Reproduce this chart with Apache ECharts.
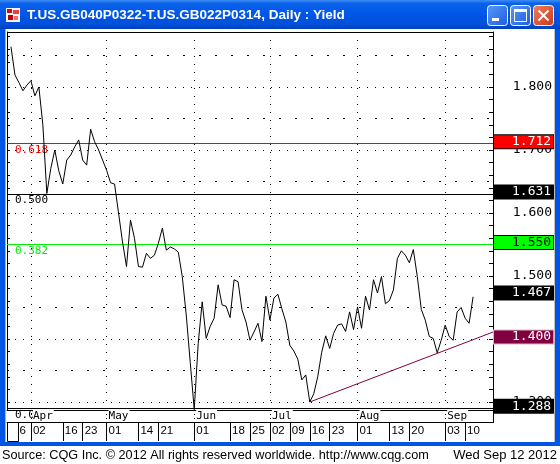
<!DOCTYPE html>
<html><head><meta charset="utf-8">
<script src="https://cdn.jsdelivr.net/npm/echarts@6/dist/echarts.min.js"></script>
<style>html,body{margin:0;padding:0;background:#fff;overflow:hidden}#c{width:560px;height:464px}</style>
</head><body><div id="c"></div><script>
// ---------- data ----------
const leadDates = ['03-23'];
const dates = [
 '03-26','03-27','03-28','03-29','03-30',
 '04-02','04-03','04-04','04-05','04-09','04-10','04-11','04-12',
 '04-16','04-17','04-18','04-19','04-20',
 '04-23','04-24','04-25','04-26','04-27','04-30',
 '05-01','05-02','05-03','05-04','05-07','05-08','05-09','05-10',
 '05-14','05-15','05-16','05-17','05-18',
 '05-21','05-22','05-23','05-24','05-25','05-28','05-29','05-30','05-31',
 '06-01','06-04','06-05','06-06','06-07','06-08','06-11','06-12','06-13',
 '06-18','06-19','06-20','06-21','06-22',
 '06-25','06-26','06-27','06-28','06-29',
 '07-02','07-03','07-04','07-05','07-06',
 '07-09','07-10','07-11','07-12','07-13',
 '07-16','07-17','07-18','07-19','07-20',
 '07-23','07-24','07-25','07-26','07-27','07-30','07-31',
 '08-01','08-02','08-03','08-06','08-07','08-08','08-09','08-10',
 '08-13','08-14','08-15','08-16','08-17',
 '08-20','08-21','08-22','08-23','08-24','08-27','08-28','08-29','08-30',
 '09-03','09-04','09-05','09-06','09-07',
 '09-10','09-11','09-12'
];
const trailDates = ['09-13','09-14','09-17','09-18','09-19'];
const spread = [
 1.864,1.819,1.807,1.794,1.803,
 1.810,1.786,1.800,1.740,1.631,1.671,1.700,1.667,
 1.646,1.684,1.692,1.705,1.716,
 1.684,1.676,1.733,1.713,1.700,1.684,
 1.668,1.648,1.646,1.600,1.554,1.515,1.589,1.560,
 1.515,1.514,1.536,1.528,1.533,
 1.552,1.576,1.541,1.546,1.543,1.538,1.499,1.438,1.363,
 1.288,1.393,1.459,1.401,1.420,1.433,1.486,1.454,1.452,
 1.434,1.494,1.491,1.446,1.427,
 1.398,1.411,1.425,1.396,1.468,
 1.430,1.465,1.471,1.448,1.427,
 1.390,1.381,1.368,1.335,1.343,
 1.300,1.313,1.340,1.379,1.405,
 1.385,1.409,1.422,1.424,1.412,1.443,1.415,
 1.451,1.417,1.468,1.446,1.494,1.473,1.499,1.456,
 1.461,1.478,1.528,1.540,1.533,
 1.521,1.542,1.499,1.447,1.430,1.404,1.401,1.378,1.398,
 1.422,1.404,1.398,1.443,1.450,
 1.433,1.425,1.467
];
const trendDates = ['07-16','09-19'];
const trendValues = [1.300, 1.411];
const monthStarts = ['04-02','05-01','06-01','07-02','08-01','09-03'];
const monthNames = ['Apr','May','Jun','Jul','Aug','Sep'];
const weekTicks = ['03-26','04-02','04-16','04-23','05-01','05-14','05-21','06-01','06-18','06-25',
                   '07-02','07-09','07-16','07-23','08-01','08-13','08-20','09-03','09-10'];
const yLabelValues = [1.3, 1.4, 1.5, 1.6, 1.7, 1.8];
const majorLevels = [1.30, 1.40, 1.50, 1.60, 1.70, 1.80];
const minorLevels = [1.35, 1.45, 1.55, 1.65, 1.75, 1.85];
const fibValues = [1.712, 1.631, 1.550, 1.288];
const fibNames = ['0.618', '0.500', '0.382', '0.000'];
const fibColors = ['#FF0000', '#000000', '#00EE00', '#000000'];
const boxValues = [1.712, 1.631, 1.550, 1.467, 1.400, 1.288];
const boxFill = ['#FF0000', '#000000', '#00FF00', '#000000', '#800040', '#000000'];
const boxText = ['#FFFFFF', '#FFFFFF', '#000000', '#FFFFFF', '#FFFFFF', '#FFFFFF'];
const boxBorder = ['#000000', '#000000', '#000000', '#000000', '#D8B8C8', '#000000'];

// ---------- chart ----------
const yMin = 1.2873, yMax = 1.8873;
const yTickValues = [];
for (let i = 0; i <= 29; i++) yTickValues.push(+(1.30 + i * 0.02).toFixed(2));
const allDates = leadDates.concat(dates, trailDates);
const MONO = 'DejaVu Sans Mono';

function gridAxis(levels, dash) {
  return {
    type: 'value', gridIndex: 0, position: 'left', min: yMin, max: yMax,
    axisLine: {show: false}, axisLabel: {show: false},
    axisTick: {show: false, customValues: levels},
    splitLine: {show: true, lineStyle: {color: '#000', width: 1, type: dash}}
  };
}

function fibSeries(i) {
  return {
    name: 'fib' + fibNames[i], type: 'line', xAxisIndex: 0, yAxisIndex: 0, data: [], silent: true, z: 3,
    color: fibColors[i], lineStyle: {color: fibColors[i]},
    markLine: {
      silent: true, symbol: ['none', 'none'], animation: false,
      lineStyle: {color: fibColors[i], width: 1, type: 'solid', opacity: 1},
      emphasis: {disabled: true},
      label: {show: true, position: 'insideStartBottom', formatter: fibNames[i], distance: [8, 1],
              color: fibColors[i], fontFamily: MONO, fontSize: 11},
      data: [{yAxis: fibValues[i], lineStyle: {color: fibColors[i], width: 1, type: 'solid'}}]
    }
  };
}

const chart = echarts.init(document.getElementById('c'), null, {renderer: 'canvas'});
const blue = '#0055E5';
const option = {
  animation: false,
  backgroundColor: '#FFFFFF',
  grid: [
    {left: 7, right: 67, top: 32, bottom: 54, show: false},
    {left: 7, right: 67, top: 32, bottom: 54, show: false}
  ],
  xAxis: [
    {
      type: 'category', gridIndex: 0, data: allDates, boundaryGap: false, position: 'bottom', z: 10,
      axisLine: {show: true, lineStyle: {color: '#000', width: 1}},
      axisTick: {show: true, interval: (i, v) => monthStarts.includes(v), length: 12,
                 lineStyle: {color: '#000', width: 1, type: [1, 3]}},
      axisLabel: {
        show: true, interval: (i, v) => monthStarts.includes(v), margin: 0, align: 'left',
        formatter: v => '{s| }{m|' + monthNames[monthStarts.indexOf(v)] + '}',
        rich: {
          s: {width: 2, fontSize: 11, fontFamily: MONO},
          m: {fontFamily: MONO, fontSize: 11, color: '#000', backgroundColor: '#FFFFFF', lineHeight: 11, padding: [1, 1, 0, 0]}
        }
      },
      splitLine: {show: true, interval: (i, v) => monthStarts.includes(v),
                  lineStyle: {color: '#000', width: 1, type: [1, 7]}}
    },
    {
      type: 'category', gridIndex: 1, data: allDates, boundaryGap: false, position: 'bottom', offset: 12,
      axisLine: {show: true, lineStyle: {color: '#000', width: 1}},
      axisTick: {show: true, interval: (i, v) => weekTicks.includes(v), length: 19,
                 lineStyle: {color: '#000', width: 1}},
      axisLabel: {show: true, interval: (i, v) => weekTicks.includes(v), formatter: v => v.slice(3),
                  align: 'left', margin: 3, padding: [0, 0, 0, 2],
                  fontFamily: 'Liberation Sans', fontSize: 11.5, color: '#000'},
      splitLine: {show: false}
    }
  ],
  yAxis: [
    {
      type: 'value', gridIndex: 0, position: 'right', min: yMin, max: yMax,
      axisLine: {show: true, lineStyle: {color: '#000', width: 1}},
      axisTick: {show: true, inside: true, length: 4, customValues: yTickValues, lineStyle: {color: '#000'}},
      axisLabel: {show: true, customValues: yLabelValues, formatter: v => v.toFixed(3), align: 'right',
                  margin: 59, fontFamily: MONO, fontSize: 13, color: '#000'},
      splitLine: {show: false}
    },
    {
      type: 'value', gridIndex: 0, position: 'left', min: yMin, max: yMax,
      axisLine: {show: true, lineStyle: {color: '#000', width: 1}},
      axisTick: {show: true, inside: true, length: 3, customValues: yTickValues, lineStyle: {color: '#000'}},
      axisLabel: {show: false},
      splitLine: {show: false}
    },
    {type: 'value', gridIndex: 1, min: yMin, max: yMax, show: false},
    gridAxis(majorLevels, [1, 7]),
    gridAxis(minorLevels, [2, 14])
  ],
  series: [
    fibSeries(0), fibSeries(1), fibSeries(2), fibSeries(3),
    {
      name: 'trend', type: 'line', xAxisIndex: 0, yAxisIndex: 0, z: 4, silent: true,
      data: trendDates.map((d, i) => [d, trendValues[i]]),
      symbol: 'none', lineStyle: {color: '#800040', width: 1}
    },
    {
      name: 'spread', type: 'line', xAxisIndex: 0, yAxisIndex: 0, z: 5, silent: true,
      data: dates.map((d, i) => [d, spread[i]]),
      symbol: 'none', lineStyle: {color: '#000', width: 1}
    },
    {
      name: 'boxes', type: 'line', xAxisIndex: 0, yAxisIndex: 0, data: [], silent: true, z: 6,
      markLine: {
        silent: true, symbol: ['none', 'none'], animation: false,
        data: boxValues.map((v, i) => ({
          yAxis: v,
          lineStyle: {color: 'rgba(0,0,0,0)', width: 0},
          label: {show: true, position: 'end', distance: 1, formatter: '{a|' + v.toFixed(3) + '}\n{b| }',
                  rich: {
                    a: {color: boxText[i], backgroundColor: boxFill[i], borderColor: boxBorder[i], borderWidth: 1,
                        padding: [0, 2, 0, 18], lineHeight: 12, fontFamily: MONO, fontSize: 13},
                    b: {lineHeight: 4, fontSize: 4}
                  }}
        }))
      }
    }
  ],
  graphic: [
    // title bar
    {type: 'rect', shape: {x: 0, y: 0, width: 560, height: 29}, z: 50,
     style: {fill: new echarts.graphic.LinearGradient(0, 0, 0, 1, [
       {offset: 0, color: '#3D8DF5'}, {offset: 0.12, color: '#0A62EA'},
       {offset: 0.5, color: '#0056E6'}, {offset: 0.85, color: '#0050DA'}, {offset: 1, color: '#003FB8'}])}},
    // icon
    {type: 'rect', shape: {x: 6, y: 8, width: 14, height: 14}, z: 51, style: {fill: '#F4F4F4'}},
    {type: 'rect', shape: {x: 7, y: 9, width: 5, height: 4}, z: 52, style: {fill: '#D01010'}},
    {type: 'rect', shape: {x: 13, y: 10, width: 6, height: 4}, z: 52, style: {fill: '#E84040'}},
    {type: 'rect', shape: {x: 8, y: 15, width: 5, height: 5}, z: 52, style: {fill: '#C00000'}},
    {type: 'rect', shape: {x: 14, y: 16, width: 4, height: 4}, z: 52, style: {fill: '#E87070'}},
    // title text
    {type: 'text', x: 27, y: 15, z: 53,
     style: {text: 'T.US.GB040P0322-T.US.GB022P0314, Daily : Yield', fill: '#FFFFFF',
             font: 'bold 13.5px "Liberation Sans"', textVerticalAlign: 'middle',
             textShadowColor: '#0A2A80', textShadowOffsetX: 1, textShadowOffsetY: 1, textShadowBlur: 0}},
    // buttons
    {type: 'rect', shape: {x: 487.5, y: 5.5, width: 20, height: 20, r: 3}, z: 51,
     style: {fill: new echarts.graphic.LinearGradient(0, 0, 1, 1, [{offset: 0, color: '#5A9AF8'}, {offset: 1, color: '#1B5CE0'}]), stroke: '#FFFFFF', lineWidth: 1}},
    {type: 'rect', shape: {x: 492, y: 18, width: 7, height: 3}, z: 52, style: {fill: '#FFFFFF'}},
    {type: 'rect', shape: {x: 510.5, y: 5.5, width: 20, height: 20, r: 3}, z: 51,
     style: {fill: new echarts.graphic.LinearGradient(0, 0, 1, 1, [{offset: 0, color: '#5A9AF8'}, {offset: 1, color: '#1B5CE0'}]), stroke: '#FFFFFF', lineWidth: 1}},
    {type: 'rect', shape: {x: 514.5, y: 9.5, width: 12, height: 12}, z: 52, style: {fill: 'none', stroke: '#FFFFFF', lineWidth: 1}},
    {type: 'rect', shape: {x: 514, y: 9, width: 13, height: 3}, z: 52, style: {fill: '#FFFFFF'}},
    {type: 'rect', shape: {x: 533.5, y: 5.5, width: 20, height: 20, r: 3}, z: 51,
     style: {fill: new echarts.graphic.LinearGradient(0, 0, 1, 1, [{offset: 0, color: '#F08060'}, {offset: 1, color: '#C83818'}]), stroke: '#FFFFFF', lineWidth: 1}},
    {type: 'line', shape: {x1: 538.5, y1: 10.5, x2: 548.5, y2: 20.5}, z: 52, style: {stroke: '#FFFFFF', lineWidth: 2}},
    {type: 'line', shape: {x1: 548.5, y1: 10.5, x2: 538.5, y2: 20.5}, z: 52, style: {stroke: '#FFFFFF', lineWidth: 2}},
    // window frame
    {type: 'rect', shape: {x: 0, y: 29, width: 5, height: 417}, z: 50, style: {fill: blue}},
    {type: 'rect', shape: {x: 5, y: 29, width: 1, height: 413}, z: 50, style: {fill: '#9DB4E0'}},
    {type: 'rect', shape: {x: 555, y: 29, width: 5, height: 417}, z: 50, style: {fill: blue}},
    {type: 'rect', shape: {x: 554, y: 29, width: 1, height: 413}, z: 50, style: {fill: '#C0C0C0'}},
    {type: 'rect', shape: {x: 0, y: 442, width: 560, height: 4}, z: 50, style: {fill: blue}},
    // plot top border and right axis extension
    {type: 'line', shape: {x1: 7, y1: 32.5, x2: 493, y2: 32.5}, z: 20, style: {stroke: '#000', lineWidth: 1}},
    {type: 'line', shape: {x1: 493.5, y1: 410, x2: 493.5, y2: 423}, z: 20, style: {stroke: '#000', lineWidth: 1}},
    // corner box in date row
    {type: 'rect', shape: {x: 7.5, y: 422.5, width: 11, height: 19}, z: 60, style: {fill: '#FFFFFF', stroke: '#000', lineWidth: 1}},
    // footer
    {type: 'text', x: 2, y: 455, z: 50,
     style: {text: 'Source: CQG Inc. \u00A9 2012 All rights reserved worldwide. http://www.cqg.com', fill: '#000',
             font: '12.7px "Liberation Sans"', textVerticalAlign: 'middle'}},
    {type: 'text', x: 557, y: 455, z: 50,
     style: {text: 'Wed Sep 12 2012', fill: '#000', font: '13px "Liberation Sans"',
             textAlign: 'right', textVerticalAlign: 'middle'}}
  ]
};
chart.setOption(option);
</script></body></html>
